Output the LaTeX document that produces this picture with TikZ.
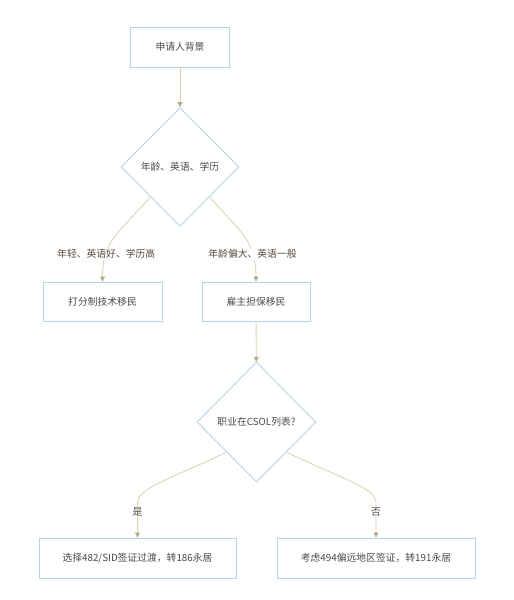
\documentclass[tikz,border=0pt]{standalone}
\usepackage{fontspec}
\setmainfont{Noto Sans CJK SC}
\usepackage{xcolor}
\usetikzlibrary{arrows.meta, shapes.geometric, positioning}

\definecolor{boxline}{HTML}{B5D3EC}
\definecolor{flowline}{HTML}{DCCFAE}
\definecolor{flowtip}{HTML}{B9AA86}
\definecolor{boxtext}{HTML}{4A4A4A}
\definecolor{labeltext}{HTML}{5C4A40}

\begin{document}
\begin{tikzpicture}[x=1pt, y=-1pt,
    stepbox/.style={draw=boxline, line width=0.9pt, fill=white, text=boxtext, font=\fontsize{9.8}{11}\selectfont, inner sep=0pt},
    choice/.style={diamond, draw=boxline, line width=0.9pt, fill=white, text=boxtext, font=\fontsize{9.8}{11}\selectfont, inner sep=0pt, minimum width=118pt, minimum height=119pt},
    flow/.style={draw=flowline, line width=0.8pt, -{Triangle[length=5pt, width=5pt, color=flowtip]}},
    flowlabel/.style={fill=white, text=labeltext, font=\fontsize{9.8}{11}\selectfont, inner sep=1pt}]
    \useasboundingbox (0, 0) rectangle (514, 600);

    \node[stepbox, minimum width=99pt, minimum height=40pt] (start) at (180, 47) {申请人背景};
    \node[choice] (check) at (180, 167) {年龄、英语、学历};
    \node[stepbox, minimum width=119pt, minimum height=39pt] (points) at (102.5, 301.5) {打分制技术移民};
    \node[stepbox, minimum width=108pt, minimum height=39pt] (employer) at (256, 301.5) {雇主担保移民};
    \node[choice, minimum width=119pt, minimum height=120pt] (csol) at (256.5, 422) {职业在CSOL列表?};
    \node[stepbox, minimum width=197pt, minimum height=40pt] (visa482) at (137.5, 558) {选择482/SID签证过渡，转186永居};
    \node[stepbox, minimum width=198pt, minimum height=40pt] (visa494) at (376, 558) {考虑494偏远地区签证，转191永居};

    \draw[flow] (start) -- (check);
    \draw[flow] (check.south west) .. controls (120, 232) and (102.5, 240) .. (points.north)
        node[flowlabel, pos=0.73] {年轻、英语好、学历高};
    \draw[flow] (check.south east) .. controls (240, 232) and (256, 240) .. (employer.north)
        node[flowlabel, pos=0.73] {年龄偏大、英语一般};
    \draw[flow] (employer) -- (csol);
    \draw[flow] (csol.south west) .. controls (168, 480) and (137.5, 488) .. (137.5, 503)
        -- node[flowlabel, pos=0.26] {是} (visa482.north);
    \draw[flow] (csol.south east) .. controls (345, 480) and (376, 488) .. (376, 503)
        -- node[flowlabel, pos=0.26] {否} (visa494.north);
\end{tikzpicture}
\end{document}
